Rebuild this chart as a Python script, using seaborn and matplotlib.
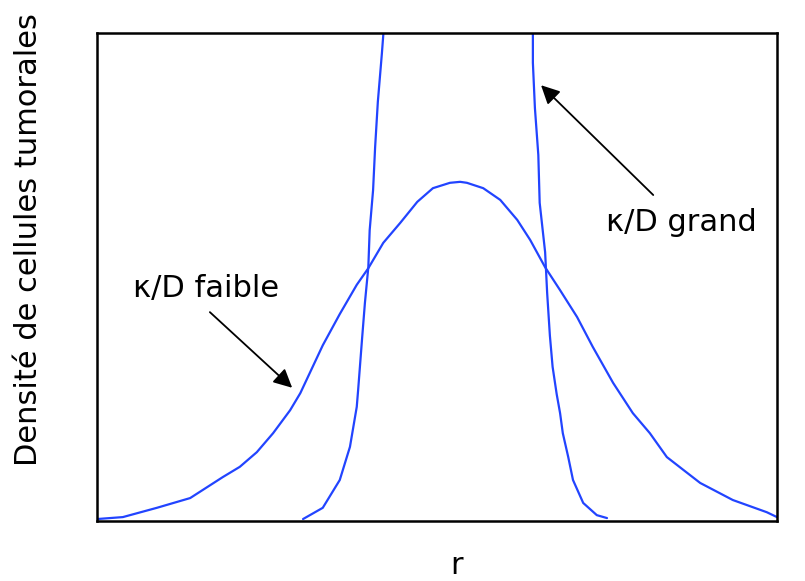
import matplotlib
matplotlib.use("Agg")
import matplotlib.pyplot as plt
import seaborn as sns
import numpy as np

sns.set_style("white")
plt.rcParams['font.family'] = ['DejaVu Sans']
plt.rcParams['text.color'] = 'black'

# Broad profile (kappa/D faible)
r_faible = [0.0, 3.8, 8.8, 13.7, 18.5, 21.0, 23.5, 25.9, 28.4, 29.9, 33.2, 35.7,
            38.2, 39.9, 42.1, 44.6, 47.1, 49.4, 51.9, 53.4, 54.4, 56.8, 59.3,
            61.8, 63.7, 65.9, 68.1, 70.6, 72.9, 75.9, 78.8, 81.3, 83.8, 86.2,
            88.7, 93.5, 98.5, 100.0]
d_faible = [0.004, 0.008, 0.027, 0.047, 0.090, 0.111, 0.141, 0.180, 0.227, 0.262,
            0.360, 0.424, 0.484, 0.518, 0.570, 0.611, 0.654, 0.682, 0.693, 0.695,
            0.693, 0.682, 0.658, 0.617, 0.576, 0.520, 0.473, 0.418, 0.357, 0.283,
            0.221, 0.180, 0.131, 0.105, 0.078, 0.043, 0.018, 0.008]

# Narrow profile (kappa/D grand)
r_grand = [30.3, 33.2, 35.7, 37.2, 38.2, 38.4, 39.0, 39.4, 39.9, 40.1, 40.6, 40.9,
           41.3, 41.9, 42.1, 44.0, 50.0, 53.0, 57.0, 63.0, 64.1, 64.1, 64.4, 64.9,
           65.1, 65.9, 66.2, 66.6, 67.0, 67.6, 68.1, 68.5, 69.3, 70.0, 71.5, 73.5, 75.0]
d_grand = [0.004, 0.027, 0.084, 0.152, 0.234, 0.268, 0.377, 0.447, 0.520, 0.596,
           0.678, 0.766, 0.859, 0.959, 0.996, 1.400, 2.600, 2.800, 2.600, 1.400,
           0.996, 0.939, 0.846, 0.750, 0.652, 0.551, 0.467, 0.380, 0.316, 0.260,
           0.221, 0.180, 0.131, 0.084, 0.037, 0.012, 0.006]

label_faible = "κ/D faible"
label_grand = "κ/D grand"
xlabel = "r"
ylabel = "Densité de cellules tumorales"

fig = plt.figure(figsize=(8.05, 5.81), dpi=100)
ax = fig.add_axes([97/805, 1-521/581, 680/805, 488/581])

blue = '#2244ff'
sns.lineplot(x=r_faible, y=d_faible, ax=ax, color=blue, lw=1.6, sort=False, estimator=None)
sns.lineplot(x=r_grand, y=d_grand, ax=ax, color=blue, lw=1.6, sort=False, estimator=None)

ax.set_xlim(0, 100)
ax.set_ylim(0, 1)
ax.set_xticks([])
ax.set_yticks([])
for s in ax.spines.values():
    s.set_color('black')
    s.set_linewidth(1.8)
    s.set_visible(True)

arrow = dict(arrowstyle='-|>', color='black', lw=1.3, mutation_scale=28,
             shrinkA=0, shrinkB=0)
ax.text(16.0, 0.477, label_faible, fontsize=22, ha='center', va='center', color='black')
ax.annotate('', xy=(28.7, 0.273), xytext=(16.6, 0.428), arrowprops=arrow)
ax.text(85.9, 0.612, label_grand, fontsize=22, ha='center', va='center', color='black')
ax.annotate('', xy=(65.3, 0.893), xytext=(81.8, 0.668), arrowprops=arrow)

fig.text(29/805, 1-240/581, ylabel, rotation=90, ha='center', va='center',
         fontsize=22, color='black')
fig.text(457/805, 1-565/581, xlabel, ha='center', va='center', fontsize=22, color='black')

fig.savefig("out.png", dpi=100)
